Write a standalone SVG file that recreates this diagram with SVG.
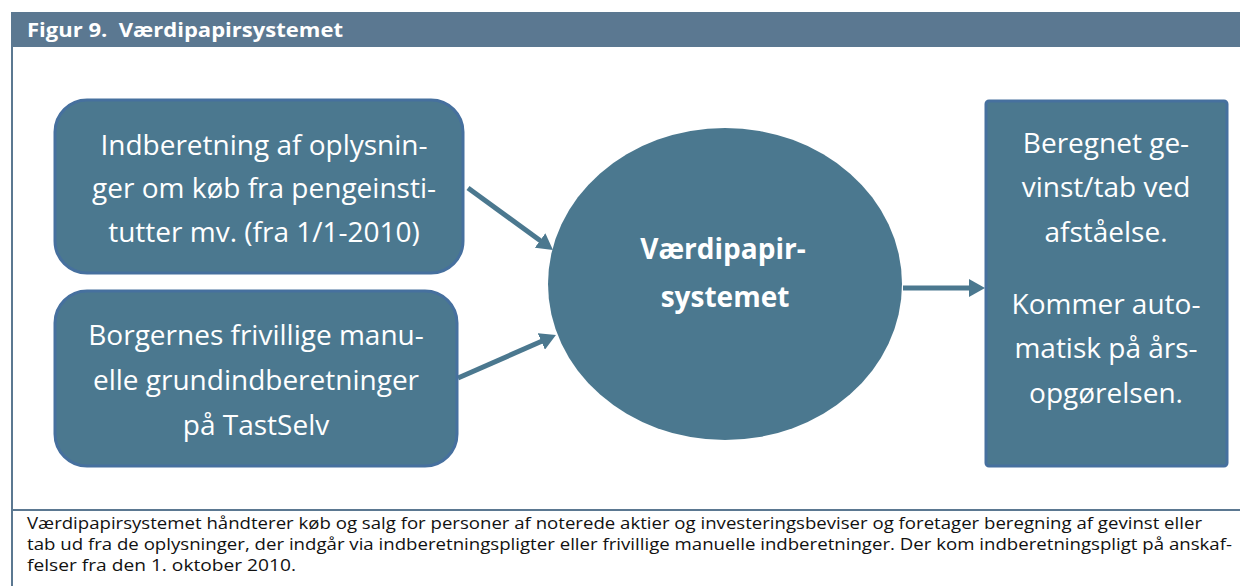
<svg xmlns="http://www.w3.org/2000/svg" width="1240" height="586" viewBox="0 0 1240 586">
<defs>
<style>
.node{fill:#4b788f;stroke:#46709e;stroke-width:3}
.t{font-family:"Open Sans","Liberation Sans",sans-serif;fill:#ffffff;font-size:28px;text-anchor:middle}
.b{font-weight:bold}
.cap{font-family:"Open Sans","Liberation Sans",sans-serif;fill:#111111;font-size:15.5px}
.conn{stroke:#4b788f;stroke-width:5;fill:none}
.frame{stroke:#5b7891;stroke-width:2;fill:none}
</style>
<marker id="ah" markerUnits="userSpaceOnUse" viewBox="0 0 16 18" markerWidth="16" markerHeight="18" refX="6" refY="9" orient="auto">
<path d="M0,0 L16,9 L0,18 z" fill="#4b788f"/>
</marker>
</defs>
<rect width="1240" height="586" fill="#ffffff"/>
<g id="header">
<rect x="11" y="12" width="1229" height="35" fill="#5b7891"/>
<text x="27" y="37" class="t b" style="text-anchor:start;font-size:19.5px;white-space:pre" xml:space="preserve" textLength="316" lengthAdjust="spacingAndGlyphs">Figur 9.  Værdipapirsystemet</text>
</g>
<g id="frame">
<line x1="12" y1="47" x2="12" y2="586" class="frame"/>
<line x1="12" y1="510" x2="1240" y2="510" class="frame"/>
</g>
<g id="connectors">
<line x1="468" y1="188" x2="544.9" y2="244.1" class="conn" marker-end="url(#ah)"/>
<line x1="458" y1="378" x2="546.8" y2="339" class="conn" marker-end="url(#ah)"/>
<line x1="903" y1="288" x2="975" y2="288" class="conn" marker-end="url(#ah)"/>
</g>
<g id="node-indberetning">
<rect x="55" y="100" width="408" height="173" rx="32" class="node"/>
<text class="t" x="264" y="155">Indberetning af oplysnin-</text>
<text class="t" x="264" y="198">ger om køb fra pengeinsti-</text>
<text class="t" x="264" y="242">tutter mv. (fra 1/1-2010)</text>
</g>
<g id="node-borgernes">
<rect x="55" y="291" width="402" height="175" rx="32" class="node"/>
<text class="t" x="256" y="345">Borgernes frivillige manu-</text>
<text class="t" x="256" y="390">elle grundindberetninger</text>
<text class="t" x="256" y="435">på TastSelv</text>
</g>
<g id="node-system">
<ellipse cx="725" cy="284" rx="177" ry="156" fill="#4b788f"/>
<text class="t b" x="723" y="259">Værdipapir-</text>
<text class="t b" x="725" y="307">systemet</text>
</g>
<g id="node-result">
<rect x="986" y="101" width="241" height="365" rx="3" class="node"/>
<text class="t" x="1106" y="153">Beregnet ge-</text>
<text class="t" x="1106" y="197">vinst/tab ved</text>
<text class="t" x="1106" y="242">afståelse.</text>
<text class="t" x="1106" y="314">Kommer auto-</text>
<text class="t" x="1106" y="358">matisk på års-</text>
<text class="t" x="1106" y="403">opgørelsen.</text>
</g>
<g id="caption">
<text class="cap" x="27" y="529" textLength="1175" lengthAdjust="spacingAndGlyphs">Værdipapirsystemet håndterer køb og salg for personer af noterede aktier og investeringsbeviser og foretager beregning af gevinst eller</text>
<text class="cap" x="27" y="550" textLength="1205" lengthAdjust="spacingAndGlyphs">tab ud fra de oplysninger, der indgår via indberetningspligter eller frivillige manuelle indberetninger. Der kom indberetningspligt på anskaf-</text>
<text class="cap" x="27" y="571" textLength="269" lengthAdjust="spacingAndGlyphs">felser fra den 1. oktober 2010.</text>
</g>
</svg>
